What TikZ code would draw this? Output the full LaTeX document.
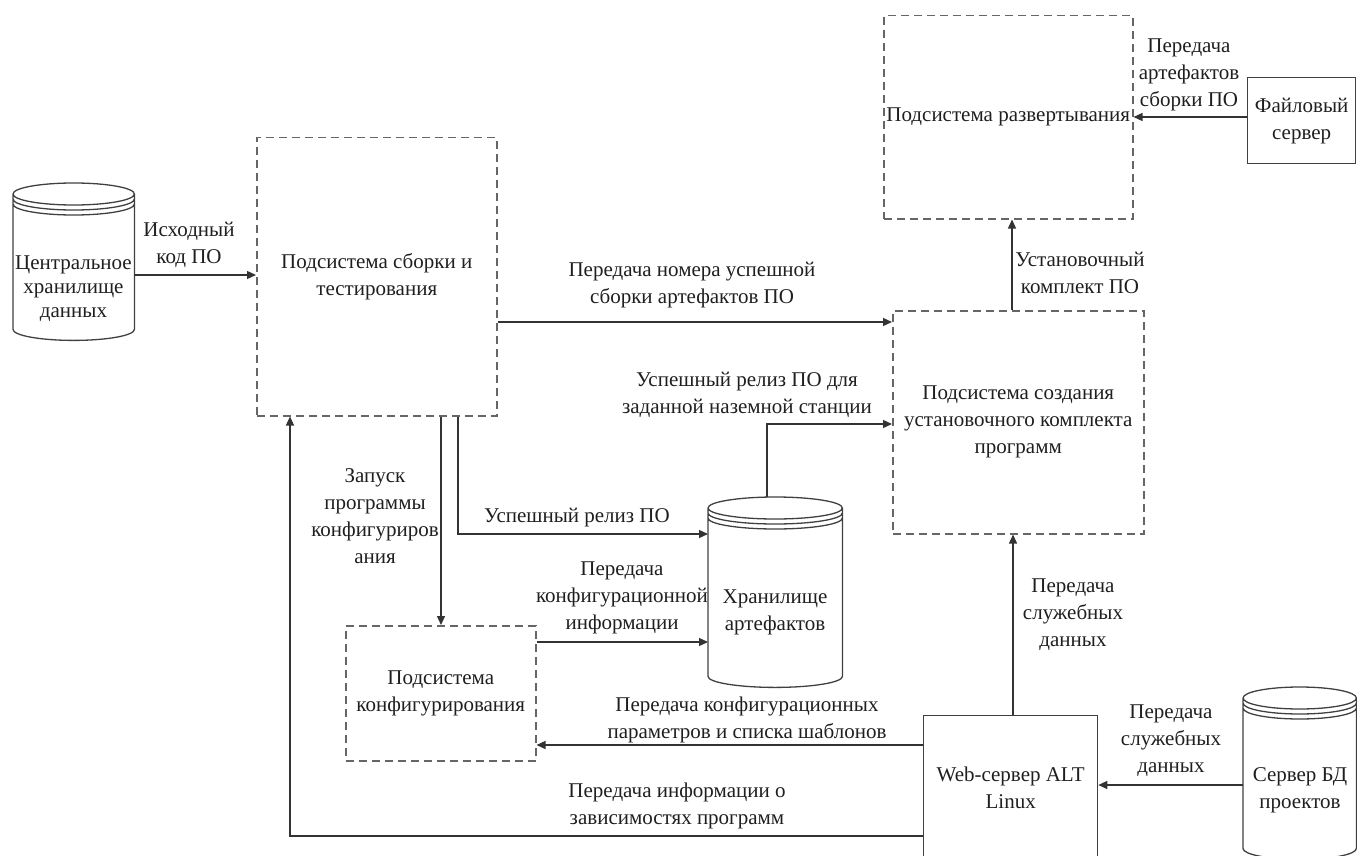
\documentclass[tikz,border=0pt]{standalone}
\usepackage{fontspec}
\setmainfont{Liberation Serif}
\usetikzlibrary{arrows.meta,calc}
\newcommand\cylshape[1]{%
  \draw[cylline] let \p1=(#1.north west),\p2=(#1.south east),\n1={0.5*(\x2-\x1)} in
    (\x1,\y1-11pt) arc[start angle=180,end angle=540,x radius=\n1,y radius=11pt]
    (\x1,\y1-11pt) -- (\x1,\y2+11pt) arc[start angle=180,end angle=360,x radius=\n1,y radius=11pt] -- (\x2,\y1-11pt)
    (\x1,\y1-16pt) arc[start angle=180,end angle=360,x radius=\n1,y radius=11pt]
    (\x1,\y1-21pt) arc[start angle=180,end angle=360,x radius=\n1,y radius=11pt];
}
\begin{document}
\begin{tikzpicture}[x=1pt,y=1pt,
  txt/.style={font=\fontsize{21}{27}\selectfont, align=center, text=black!88, inner sep=0pt},
  dbox/.style={draw=black!60, line width=1.5pt, dash pattern=on 8pt off 5pt, anchor=north west, inner sep=0pt, txt},
  sbox/.style={draw=black!75, line width=1.3pt, anchor=north west, inner sep=0pt, txt},
  cylnode/.style={draw=none, anchor=north west, inner sep=0pt},
  cylline/.style={draw=black!75, line width=1.3pt},
  arr/.style={draw=black!80, line width=1.3pt, -{Triangle[length=9pt,width=8pt]}},
  lbl/.style={txt}]
\useasboundingbox (0,0) rectangle (1357,-856);
\clip (0,0) rectangle (1357,-856);

% boxes
\node[dbox, minimum width=240pt, minimum height=278pt] (build) at (256,-137) {Подсистема сборки и\\тестирования};
\node[dbox, minimum width=249pt, minimum height=203pt] (deploy) at (883,-15) {Подсистема развертывания};
\node[dbox, minimum width=251pt, minimum height=223pt] (create) at (892,-310) {Подсистема создания\\установочного комплекта\\программ};
\node[dbox, minimum width=190pt, minimum height=135pt] (config) at (345,-625) {Подсистема\\конфигурирования};
\node[sbox, minimum width=108pt, minimum height=86pt] (file) at (1247,-77) {Файловый\\сервер};
\node[sbox, minimum width=174pt, minimum height=145pt] (web) at (923,-715) {Web-сервер ALT\\Linux};

% cylinders
\node[cylnode, minimum width=121pt, minimum height=157pt] (c1) at (13,-183) {};
\cylshape{c1}
\node[txt, font=\fontsize{21}{24}\selectfont] (c1t) at (73.5,-289) {Центральное\\хранилище\\данных};
\node[cylnode, minimum width=134pt, minimum height=190pt] (store) at (708,-497) {};
\cylshape{store}
\node[txt] (storet) at (775,-612) {Хранилище\\артефактов};
\node[cylnode, minimum width=113pt, minimum height=172pt] (db) at (1243,-687) {};
\cylshape{db}
\node[txt] (dbt) at (1300,-790) {Сервер БД\\проектов};

% connectors
\draw[arr] (c1.east |- 0,-275) -- (build.west |- 0,-275);
\draw[arr] (build.east |- 0,-322) -- (create.west |- 0,-322);
\draw[arr] (create.north -| 1012,0) -- (deploy.south -| 1012,0);
\draw[arr] (file.west |- 0,-117) -- (deploy.east |- 0,-117);
\draw[arr] (build.south -| 458,0) |- (store.west |- 0,-534);
\draw[arr] (build.south -| 441,0) -- (config.north -| 441,0);
\draw[arr] (store.north -| 767,0) |- (create.west |- 0,-424);
\draw[arr] (config.east |- 0,-642) -- (store.west |- 0,-642);
\draw[arr] (web.west |- 0,-745) -- (config.east |- 0,-745);
\draw[arr] (web.west |- 0,-836) -| (build.south -| 290,0);
\draw[arr] (web.north -| 1013,0) -- (create.south -| 1013,0);
\draw[arr] (db.west |- 0,-785) -- (web.east |- 0,-785);

% labels
\node[lbl] (l1) at (189,-245) {Исходный\\код ПО};
\node[lbl] (l2) at (692,-285) {Передача номера успешной\\сборки артефактов ПО};
\node[lbl] (l3) at (747,-395) {Успешный релиз ПО для\\заданной наземной станции};
\node[lbl] (l4) at (1080,-273) {Установочный\\комплект ПО};
\node[lbl] (l5) at (1189,-75) {Передача\\артефактов\\сборки ПО};
\node[lbl] (l6) at (375,-516) {Запуск\\программы\\конфигуриров\\ания};
\node[lbl] (l7) at (577,-518) {Успешный релиз ПО};
\node[lbl] (l8) at (622,-598) {Передача\\конфигурационной\\информации};
\node[lbl] (l9) at (747,-720) {Передача конфигурационных\\параметров и списка шаблонов};
\node[lbl] (l10) at (1073,-615) {Передача\\служебных\\данных};
\node[lbl] (l11) at (1171,-741) {Передача\\служебных\\данных};
\node[lbl] (l12) at (677,-806) {Передача информации о\\зависимостях программ};
\end{tikzpicture}
\end{document}
